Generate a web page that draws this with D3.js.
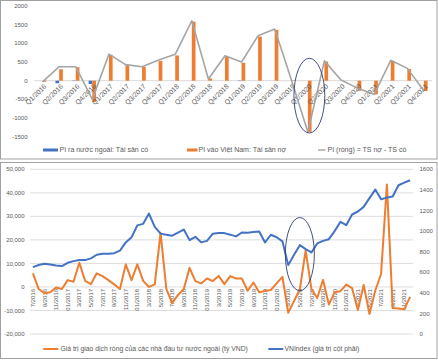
<!DOCTYPE html>
<html><head><meta charset="utf-8">
<script src="https://cdn.jsdelivr.net/npm/d3@7"></script>
<style>body{margin:0;background:#fff}svg{display:block}text{font-family:"Liberation Sans",Arial,sans-serif;fill:#595959}</style>
</head><body><svg id="c" width="438" height="360"></svg>
<script>
// ---- Top chart data ----
const quarters = ["Q1/2016","Q2/2016","Q3/2016","Q4/2016","Q1/2017","Q2/2017","Q3/2017","Q4/2017",
  "Q1/2018","Q2/2018","Q3/2018","Q4/2018","Q1/2019","Q2/2019","Q3/2019","Q4/2019",
  "Q1/2020","Q2/2020","Q3/2020","Q4/2020","Q1/2021","Q2/2021","Q3/2021","Q4/2021"];
const piOut = [0,-70,-10,-90,0,0,0,0,0,0,0,0,-10,0,0,0,0,0,0,0,0,0,0,0];
const piIn  = [-30,305,360,-570,695,415,370,530,675,1580,60,645,480,1180,1360,10,-1370,515,0,-270,-365,530,315,-275];
const piNet = [-30,375,375,-500,710,430,375,555,705,1605,45,670,500,1205,1385,30,-1375,530,20,-200,-365,545,330,-270];
const topTicks = [2000,1500,1000,500,0,-500,-1000,-1500];
const topLegend = ["PI ra nước ngoài: Tài sản có","PI vào Việt Nam: Tài sản nợ","PI (ròng) = TS nợ - TS có"];
const topHighlight = {category:"Q1/2020", low:-1400, high:600};

// ---- Bottom chart data ----
const months = ["7/2016","8/2016","9/2016","10/2016","11/2016","12/2016",
 "01/2017","2/2017","3/2017","4/2017","5/2017","6/2017","7/2017","8/2017","9/2017","10/2017","11/2017","12/2017",
 "01/2018","2/2018","3/2018","4/2018","5/2018","6/2018","7/2018","8/2018","9/2018","10/2018","11/2018","12/2018",
 "01/2019","2/2019","3/2019","4/2019","5/2019","6/2019","7/2019","8/2019","9/2019","10/2019","11/2019","12/2019",
 "01/2020","2/2020","3/2020","4/2020","5/2020","6/2020","7/2020","8/2020","9/2020","10/2020","11/2020","12/2020",
 "01/2021","2/2021","3/2021","4/2021","5/2021","6/2021","7/2021","8/2021","9/2021","10/2021","11/2021","12/2021"];
const foreignNet = [5800,-900,-2700,-2300,-200,-900,
 2900,2200,10300,2600,1200,5800,4600,2900,1100,-900,9600,2900,
 9600,2600,0,1100,23000,-900,-6900,-3400,-900,8100,2500,1500,
 3600,2500,4700,1200,4600,3600,3600,-1600,1900,-2300,-1700,-1300,
 1500,4300,-11000,-6000,-1000,15500,-900,-4700,3000,-7500,-2300,-1800,
 1000,-500,-9800,800,-11500,-1500,5500,43500,-9000,-9200,-9500,-4200];
const vnIndex = [650,670,683,675,665,660,
 692,708,718,718,735,770,780,780,785,810,890,940,
 1055,1070,1170,1040,975,965,955,985,1015,912,944,890,
 905,975,980,980,965,948,986,983,990,995,889,964,
 940,900,669,770,863,825,792,880,905,921,1000,1089,
 1057,1161,1190,1235,1320,1403,1309,1325,1335,1445,1470,1494];
const leftTicks = [50000,40000,30000,20000,10000,0,-10000,-20000];
const rightTicks = [1600,1400,1200,1000,800,600,400,200,0];
const bottomLegend = ["Giá trị giao dịch ròng của các nhà đầu tư nước ngoài (tỷ VND)","VNIndex (giá trị cột phải)"];
const bottomHighlight = {month:"5/2020", low:-1600, high:29500};

const C_BLUE = "#4472C4", C_ORANGE = "#ED7D31", C_GRAY = "#A5A5A5", C_GRID = "#D9D9D9";
const svg = d3.select("#c");

// Panels
svg.append("rect").attr("x",0.5).attr("y",0.5).attr("width",436.5).attr("height",158.5)
  .attr("fill","#fff").attr("stroke","#a0a0a0");
svg.append("rect").attr("x",0.5).attr("y",162.5).attr("width",436.5).attr("height",196)
  .attr("fill","#fff").attr("stroke","#a0a0a0");

// ---------- TOP CHART ----------
const xT = d3.scaleBand().domain(quarters).range([34.3, 432.2]);
const yT = d3.scaleLinear().domain([-1500, 2000]).range([136.7, 6]);
const cT = q => xT(q) + xT.bandwidth()/2;
const bw = 3.7;
const gT = svg.append("g");

gT.selectAll(".yl").data(topTicks).enter().append("text")
  .attr("x", 27.5).attr("y", d => yT(d)).attr("dy","0.35em")
  .attr("text-anchor","end").attr("font-size","6px").text(d => String(d));

gT.append("line").attr("x1",34.3).attr("x2",432.2).attr("y1",yT(0)).attr("y2",yT(0))
  .attr("stroke",C_GRID).attr("stroke-width",1);

gT.selectAll(".bo").data(quarters).enter().append("rect")
  .attr("x", q => cT(q) - bw)
  .attr("y", (q,i) => Math.min(yT(piOut[i]), yT(0)))
  .attr("width", bw)
  .attr("height", (q,i) => Math.abs(yT(piOut[i]) - yT(0)))
  .attr("fill", C_BLUE);
gT.selectAll(".bi").data(quarters).enter().append("rect")
  .attr("x", q => cT(q))
  .attr("y", (q,i) => Math.min(yT(piIn[i]), yT(0)))
  .attr("width", bw)
  .attr("height", (q,i) => Math.abs(yT(piIn[i]) - yT(0)))
  .attr("fill", C_ORANGE);

gT.selectAll(".xl").data(quarters).enter().append("text")
  .attr("transform", q => `translate(${cT(q)+2.5},${yT(0)+4.5}) rotate(-45)`)
  .attr("dy","0.35em").attr("text-anchor","end").attr("font-size","6.8px").text(q => q);

gT.append("path").datum(quarters)
  .attr("d", d3.line().x(q => cT(q)).y((q,i) => yT(piNet[i])))
  .attr("fill","none").attr("stroke",C_GRAY).attr("stroke-width",1.6).attr("stroke-linejoin","round");

gT.append("ellipse")
  .attr("cx", cT(topHighlight.category) + 1.5)
  .attr("cy", (yT(topHighlight.low) + yT(topHighlight.high))/2)
  .attr("rx", xT.bandwidth()*0.93)
  .attr("ry", (yT(topHighlight.low) - yT(topHighlight.high))/2)
  .attr("fill","none").attr("stroke","#2F3C73").attr("stroke-width",0.9);

// top legend
const ly = 150;
svg.append("rect").attr("x",43).attr("y",ly-1.5).attr("width",15).attr("height",3).attr("fill",C_BLUE);
svg.append("text").attr("x",59.5).attr("y",ly).attr("dy","0.35em").attr("font-size","7px").text(topLegend[0]);
svg.append("rect").attr("x",187).attr("y",ly-1.5).attr("width",10.5).attr("height",3).attr("fill",C_ORANGE);
svg.append("text").attr("x",198.5).attr("y",ly).attr("dy","0.35em").attr("font-size","7px").text(topLegend[1]);
svg.append("line").attr("x1",318).attr("x2",325.5).attr("y1",ly).attr("y2",ly).attr("stroke",C_GRAY).attr("stroke-width",1.4);
svg.append("text").attr("x",327.5).attr("y",ly).attr("dy","0.35em").attr("font-size","7px").text(topLegend[2]);

// ---------- BOTTOM CHART ----------
const xB = d3.scaleBand().domain(months).range([30, 413]);
const cB = m => xB(m) + xB.bandwidth()/2;
const yL = d3.scaleLinear().domain([-20000, 50000]).range([334, 169.3]);
const yR = d3.scaleLinear().domain([0, 1600]).range([334, 169.3]);
const gB = svg.append("g");
const fmt = v => d3.format(",")(v).replace("\u2212","-");

gB.selectAll(".gl").data(leftTicks).enter().append("line")
  .attr("x1",30).attr("x2",413).attr("y1",d=>yL(d)).attr("y2",d=>yL(d))
  .attr("stroke",C_GRID).attr("stroke-width",0.9);
gB.selectAll(".ll").data(leftTicks).enter().append("text")
  .attr("x",24.5).attr("y",d=>yL(d)).attr("dy","0.35em").attr("text-anchor","end")
  .attr("font-size","6px").text(fmt);
gB.selectAll(".rl").data(rightTicks).enter().append("text")
  .attr("x",419.5).attr("y",d=>yR(d)).attr("dy","0.35em").attr("text-anchor","start")
  .attr("font-size","6px").text(d => String(d));

gB.selectAll(".xl").data(months.filter((m,i) => i % 2 === 0)).enter().append("text")
  .attr("transform", m => `translate(${cB(m)},${yL(0)+2}) rotate(-90)`)
  .attr("dy","0.35em").attr("text-anchor","end").attr("font-size","6px").text(m => m);

gB.append("path").datum(months)
  .attr("d", d3.line().x(m => cB(m)).y((m,i) => yL(foreignNet[i])))
  .attr("fill","none").attr("stroke",C_ORANGE).attr("stroke-width",2).attr("stroke-linejoin","round");
gB.append("path").datum(months)
  .attr("d", d3.line().x(m => cB(m)).y((m,i) => yR(vnIndex[i])))
  .attr("fill","none").attr("stroke",C_BLUE).attr("stroke-width",2).attr("stroke-linejoin","round");

gB.append("ellipse")
  .attr("cx", cB(bottomHighlight.month))
  .attr("cy", (yL(bottomHighlight.low) + yL(bottomHighlight.high))/2)
  .attr("rx", xB.bandwidth()*2.5)
  .attr("ry", (yL(bottomHighlight.low) - yL(bottomHighlight.high))/2)
  .attr("fill","none").attr("stroke","#2F3C73").attr("stroke-width",0.9);

// bottom legend
const by = 349;
svg.append("line").attr("x1",43.3).attr("x2",58.3).attr("y1",by).attr("y2",by).attr("stroke",C_ORANGE).attr("stroke-width",2);
svg.append("text").attr("x",60.5).attr("y",by).attr("dy","0.35em").attr("font-size","6.8px").text(bottomLegend[0]);
svg.append("line").attr("x1",268.3).attr("x2",283.3).attr("y1",by).attr("y2",by).attr("stroke",C_BLUE).attr("stroke-width",2);
svg.append("text").attr("x",284.5).attr("y",by).attr("dy","0.35em").attr("font-size","6.8px").text(bottomLegend[1]);
</script></body></html>
